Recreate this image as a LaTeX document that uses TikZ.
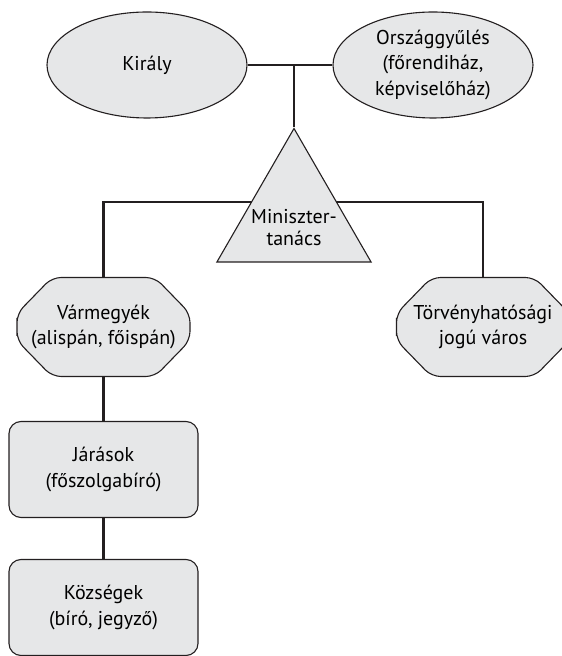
\documentclass[tikz,border=0pt]{standalone}
\usepackage{fontspec}
\setmainfont{PT Sans}
\usetikzlibrary{shapes.geometric,backgrounds}

\definecolor{boxgray}{HTML}{E6E7E8}
\definecolor{edgeblack}{HTML}{231F20}

\newcommand{\drawcounty}[4]{%
\draw[shapeline, shift={(#2,#3)}, rounded corners=9pt] (-86.5,0) -- (-86.5,13.5) -- (-51.5,49.5) -- (51.5,49.5) -- (86.5,13.5) -- (86.5,-13.5) -- (51.5,-49.5) -- (-51.5,-49.5) -- (-86.5,-13.5) -- cycle;
\node[county] (#1) at (#2,#3) {#4};
}

\tikzset{
  shapeline/.style={draw=edgeblack, fill=boxgray, line width=1.1pt},
  shapebase/.style={shapeline, align=center, inner sep=0pt, font=\fontsize{20}{25.5}\selectfont},
  oval/.style={shapebase, ellipse, minimum width=200pt, minimum height=106pt},
  council/.style={shapebase, regular polygon, regular polygon sides=3, minimum size=178pt},
  county/.style={shapebase, draw=none, fill=none, rectangle, minimum width=173pt, minimum height=99pt},
  office/.style={shapebase, rectangle, rounded corners=12pt, minimum width=189pt, minimum height=96pt},
  link/.style={draw=edgeblack, line width=2.4pt},
}

\begin{document}
\begin{tikzpicture}[x=1pt,y=1pt]

\useasboundingbox (0,0) rectangle (562,656);

% top level
\node[oval] (kiraly) at (147,591) {Király};
\node[oval] (orszag) at (433,591) {Országgyűlés\\(főrendiház,\\képviselőház)};

\node[council, label={[font=\fontsize{20}{22}\selectfont, align=center, yshift=-10pt]center:Miniszter-\\tanács}] (kormany) at (294,438.5) {};

% counties and cities
\drawcounty{varm}{103.5}{329}{Vármegyék\\(alispán, főispán)}
\drawcounty{torv}{483}{329}{Törvényhatósági\\jogú város}

% lower levels
\node[office] (jaras) at (103.5,186.5) {Járások\\(főszolgabíró)};
\node[office] (kozseg) at (103.5,48.5) {Községek\\(bíró, jegyző)};

\coordinate (crown) at (kiraly.east -| kormany.north);
\coordinate (bus) at (294,454);

\begin{scope}[on background layer]
\draw[link] (kiraly.east) -- (orszag.west);
\draw[link] (crown) -- (kormany.north);
\draw[link] (varm.north) |- (bus) -| (torv.north);
\draw[link] (varm.south) -- (jaras.north);
\draw[link] (jaras.south) -- (kozseg.north);
\end{scope}

\end{tikzpicture}
\end{document}
